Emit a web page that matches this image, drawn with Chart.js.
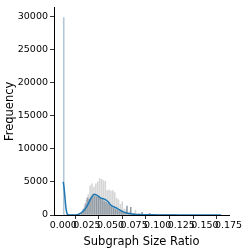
<!DOCTYPE html>
<html>
<head>
<meta charset="utf-8">
<script src="https://cdn.jsdelivr.net/npm/chart.js@4"></script>
<style>
  html, body { margin: 0; padding: 0; background: #fff; }
  #wrap { width: 249px; height: 249px; }
</style>
</head>
<body>
<div id="wrap"><canvas id="chart" width="249" height="249"></canvas></div>
<script>
// histogram: bins of width 0.001 starting at 0
const binWidth = 0.001;
const binCounts = [
  29800, 0, 0, 0, 0, 0, 0, 0, 0, 0,
  0, 0, 0, 0, 0, 30, 80, 150, 250, 400,
  600, 900, 1300, 1700, 2200, 2600, 3100, 2400, 4400, 2600,
  4700, 3000, 4200, 2900, 4700, 2800, 5000, 2700, 5500, 2500,
  5400, 2400, 5200, 2100, 5100, 1900, 3700, 1700, 3800, 1500,
  3600, 1300, 3700, 1100, 3400, 900, 2500, 700, 2300, 600,
  1600, 500, 2000, 400, 900, 300, 800, 1340, 300, 250,
  500, 1150, 200, 150, 300, 150, 740, 100, 120, 100,
  200, 80, 100, 400, 60, 50, 80, 50, 60, 50,
  40, 250, 40, 30, 40, 30, 30, 20, 30, 20,
  150, 20, 15, 15, 10, 10, 10, 10, 10, 10,
  100, 10, 5, 5, 5, 5, 5, 5, 5, 5
];

// kde curve
const kdeX = [0, 0.001, 0.002, 0.003, 0.004, 0.005, 0.0075, 0.01, 0.0125, 0.015,
  0.0175, 0.02, 0.0225, 0.025, 0.0275, 0.03, 0.0325, 0.035, 0.0375, 0.04,
  0.0425, 0.045, 0.0475, 0.05, 0.0525, 0.055, 0.0575, 0.06, 0.0625, 0.065,
  0.0675, 0.07, 0.075, 0.08, 0.085, 0.09, 0.095, 0.1, 0.11, 0.12,
  0.13, 0.14, 0.15, 0.16, 0.167];
const kdeY = [5000, 3900, 2300, 900, 250, 40, 0, 0, 10, 60,
  200, 450, 800, 1300, 2000, 2700, 3150, 3050, 2800, 2550,
  2450, 2300, 2000, 1550, 1300, 1150, 950, 750, 550, 400,
  300, 230, 130, 80, 50, 30, 20, 12, 5, 2,
  1, 0, 0, 0, 0];

const xTicks = [0, 0.025, 0.05, 0.075, 0.1, 0.125, 0.15, 0.175];
const yTicks = [0, 5000, 10000, 15000, 20000, 25000, 30000];

const font = { family: "DejaVu Sans", size: 9.5 };
const titleFont = { family: "DejaVu Sans", size: 11.5 };

const barData = binCounts.map((c, i) => ({ x: (i + 0.5) * binWidth, y: c }));
const kdeData = kdeX.map((x, i) => ({ x, y: kdeY[i] }));

new Chart(document.getElementById("chart"), {
  data: {
    datasets: [
      {
        type: "line",
        data: kdeData,
        borderColor: "#1f77b4",
        borderWidth: 1.5,
        pointRadius: 0,
        cubicInterpolationMode: "monotone",
        order: 0,
      },
      {
        type: "bar",
        data: barData,
        backgroundColor: (ctx) =>
          ctx.dataIndex === 0
            ? "rgba(160,185,205,0.8)"
            : ctx.dataIndex % 2
            ? "rgba(110,125,140,0.75)"
            : "rgba(185,185,185,0.6)",
        barPercentage: 1,
        categoryPercentage: 1,
        order: 1,
      },
    ],
  },
  options: {
    responsive: false,
    animation: false,
    layout: { padding: { left: 0, right: 20, top: 5, bottom: 0 } },
    plugins: { legend: { display: false }, tooltip: { enabled: false } },
    scales: {
      x: {
        type: "linear",
        offset: false,
        min: -0.0098,
        max: 0.1755,
        afterBuildTicks: (scale) => {
          scale.ticks = xTicks.map((v) => ({ value: v }));
        },
        afterFit: (scale) => {
          scale.height = 34;
        },
        ticks: {
          autoSkip: false,
          maxRotation: 0,
          font,
          color: "#000",
          padding: 1,
          callback: (v) => v.toFixed(3),
        },
        grid: { drawOnChartArea: false, tickLength: 4, color: "#000", tickWidth: 0.8 },
        border: { color: "#000", width: 1 },
        title: { display: true, text: "Subgraph Size Ratio", font: titleFont, color: "#000", padding: { top: 1, bottom: 0 } },
      },
      y: {
        type: "linear",
        min: 0,
        max: 31300,
        afterBuildTicks: (scale) => {
          scale.ticks = yTicks.map((v) => ({ value: v }));
        },
        afterFit: (scale) => {
          scale.width = 54;
        },
        ticks: { font, color: "#000", padding: 2, callback: (v) => String(v) },
        grid: { drawOnChartArea: false, tickLength: 4, color: "#000", tickWidth: 0.8 },
        border: { color: "#000", width: 1 },
        title: { display: true, text: "Frequency", font: titleFont, color: "#000", padding: { top: 3, bottom: 2 } },
      },
    },
  },
});
</script>
</body>
</html>
